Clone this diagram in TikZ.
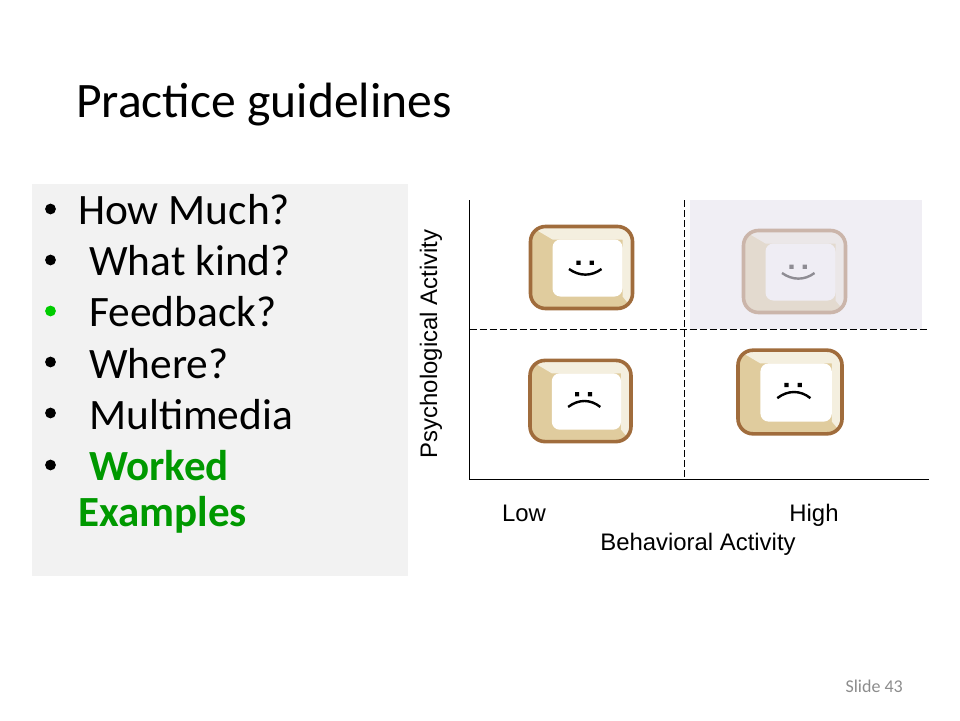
\documentclass[tikz,border=0pt]{standalone}
\usepackage{fontspec}
\setmainfont{Carlito}
\newfontfamily\labelfont{Liberation Sans}
\usetikzlibrary{positioning}

\definecolor{panelgray}{HTML}{F2F2F2}
\definecolor{bulletgreen}{HTML}{00CC00}
\definecolor{textgreen}{HTML}{009900}
\definecolor{keyedge}{HTML}{A06C3C}
\definecolor{keydark}{HTML}{E0CC9E}
\definecolor{keylight}{HTML}{F4EFDF}
\definecolor{veilcolor}{HTML}{E6E3EE}
\definecolor{slidegray}{HTML}{8C8C8C}

\tikzset{
    bullettext/.style={anchor=base west,inner sep=0pt,font=\fontsize{43.4}{43.4}\selectfont},
    greentext/.style={bullettext,text=textgreen,font=\fontsize{43}{43}\selectfont\bfseries},
    axislabel/.style={inner sep=0pt,font=\labelfont\fontsize{23.9}{23.9}\selectfont},
    pics/keybase/.style={code={
        \begin{scope}
            \clip[rounded corners=15] (-51,-41) rectangle (51,41);
            \fill[keydark] (-51,-41) rectangle (51,41);
            \fill[keylight] (-51,-41) -- (51,-41) -- (51,41) -- (41,29) -- (41,-28) -- (-29,-28) -- cycle;
        \end{scope}
        \draw[keyedge,line width=3.6,rounded corners=15] (-51,-41) rectangle (51,41);
        \fill[white,rounded corners=8] (-29,-28) rectangle (41,29);
    }},
    pics/happyface/.style={code={
        \fill[black] (-5.2,-6.8) rectangle +(4.2,4.2) (8.2,-6.8) rectangle +(4.2,4.2);
        \draw[line width=2.4] (-12.5,1.5) .. controls (-2,9) and (10,9) .. (20,1.5);
    }},
    pics/sadface/.style={code={
        \fill[black] (-5.5,-9) rectangle +(4.2,4.2) (7.5,-9) rectangle +(4.2,4.2);
        \draw[line width=2.4] (-12.5,6) .. controls (-2,-2) and (10,-2) .. (20,6);
    }},
}

\begin{document}
\begin{tikzpicture}[x=1pt,y=-1pt]
    \useasboundingbox (0,0) rectangle (960,720);

    % Draw title
    \node[anchor=base west,inner sep=0pt,font=\fontsize{49.6}{49.6}\selectfont] (title) at (76,117.5) {Practice guidelines};

    % Draw left panel
    \fill[panelgray] (32,184) rectangle (408,576);
    \foreach \ypos/\xpos/\name/\word in {224.5/78/much/How Much?,275.5/89/kind/What kind?,326.5/89/feedback/Feedback?,378.5/89/where/Where?,429.5/89/media/Multimedia}
        \node[bullettext] (\name) at (\xpos,\ypos) {\word};
    \node[greentext] (worked) at (89,480.5) {Worked};
    \node[greentext] (examples) at (78,526.5) {Examples};

    % Draw bullets
    \foreach \ypos in {209,260,362,413,465}
        \fill[black] (50.5,\ypos) circle (5.4);
    \fill[bulletgreen] (50.5,311) circle (5.4);

    % Draw keys
    \pic (keyone) at (581.5,267.5) {keybase};
    \pic (keyonef) at (581.5,267.5) {happyface};
    \pic (keytwo) at (794.5,271.5) {keybase};
    \pic (keytwof) at (794.5,271.5) {happyface};
    \pic[scale=0.99] (keythree) at (580.5,401) {keybase};
    \pic[scale=0.99] (keythreef) at (580.5,401) {sadface};
    \pic[scale=1.02] (keyfour) at (790,392) {keybase};
    \pic[scale=1.02] (keyfourf) at (790,392) {sadface};

    % Veil over the upper right cell
    \fill[veilcolor,opacity=0.62] (690,200) rectangle (922,329);

    % Draw axes
    \coordinate (top) at (469.5,200);
    \coordinate (origin) at (469.5,479.5);
    \coordinate (right) at (929,479.5);
    \draw[line width=1] (top) -- (origin) -- (right);

    % Draw dashed lines
    \coordinate (midleft) at (469.5,329);
    \coordinate (midright) at (929,329);
    \coordinate (midtop) at (684.5,200);
    \coordinate (midbottom) at (684.5,479.5);
    \draw[line width=1,dash pattern=on 7pt off 3pt] (midleft) -- (midright);
    \draw[line width=1,dash pattern=on 7pt off 3pt] (midtop) -- (midbottom);

    % Draw labels
    \node[axislabel,anchor=base] (low) at (524,521) {Low};
    \node[axislabel,anchor=base] (high) at (814,521) {High};
    \node[axislabel,anchor=base] (behav) at (698,550) {Behavioral Activity};
    \node[axislabel,rotate=90,anchor=base] (psych) at (437,344) {Psychological Activity};
    \node[anchor=base east,inner sep=0pt,text=slidegray,font=\fontsize{18}{18}\selectfont] (slide) at (903,692.5) {Slide 43};
\end{tikzpicture}
\end{document}
